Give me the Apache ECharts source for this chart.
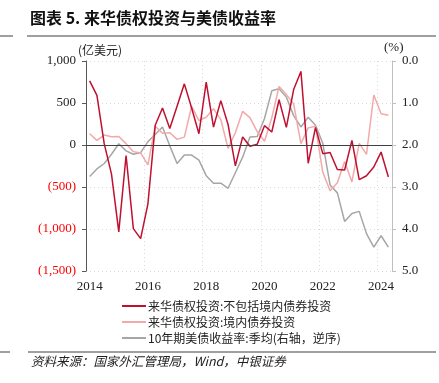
<!DOCTYPE html>
<html>
<head>
<meta charset="utf-8">
<script src="https://cdn.jsdelivr.net/npm/echarts@6/dist/echarts.min.js"></script>
<style>
html,body{margin:0;padding:0;background:#fff;}
#c{width:439px;height:383px;}
</style>
</head>
<body>
<div id="c"></div>
<script>
// Quarterly categories 2014Q1 .. 2024Q2
const categories = [
 '2014Q1','2014Q2','2014Q3','2014Q4','2015Q1','2015Q2','2015Q3','2015Q4',
 '2016Q1','2016Q2','2016Q3','2016Q4','2017Q1','2017Q2','2017Q3','2017Q4',
 '2018Q1','2018Q2','2018Q3','2018Q4','2019Q1','2019Q2','2019Q3','2019Q4',
 '2020Q1','2020Q2','2020Q3','2020Q4','2021Q1','2021Q2','2021Q3','2021Q4',
 '2022Q1','2022Q2','2022Q3','2022Q4','2023Q1','2023Q2','2023Q3','2023Q4',
 '2024Q1','2024Q2'
];
// 来华债权投资:不包括境内债券投资 (亿美元)
const debtExBond = [
 764, 590, 16, -346, -1035, -125, -996, -1114,
 -700, 236, 441, 197, 461, 728, 441, 134,
 748, 213, 528, 244, -248, 96, -14, 10,
 230, 155, 539, 210, 660, 876, -218, 210,
 -103, -90, -292, -297, 55, -413, -366, -262,
 -84, -380
];
// 来华债权投资:境内债券投资 (亿美元)
const domesticBond = [
 134, 55, 118, 98, 102, 16, -79, -95,
 -236, 224, 140, 146, 67, 94, 461, 291,
 331, 433, 303, -40, 146, 401, 326, 160,
 45, 323, 697, 600, 490, 16, 204, 222,
 -325, -545, -448, -196, -440, 20, -112, 595,
 371, 353
];
// 10年期美债收益率:季均 (%)
const ust10y = [
 2.75, 2.57, 2.44, 2.22, 1.97, 2.14, 2.22, 2.18,
 1.92, 1.75, 1.57, 2.02, 2.44, 2.24, 2.24, 2.36,
 2.73, 2.91, 2.91, 3.03, 2.66, 2.29, 1.81, 1.80,
 1.37, 0.71, 0.66, 0.86, 1.30, 1.57, 1.34, 1.53,
 1.96, 2.95, 3.14, 3.82, 3.63, 3.58, 4.11, 4.43,
 4.16, 4.43
];
const leftTicks = {min: -1500, max: 1000, interval: 500};
const rightTicks = {min: 0, max: 5, interval: 1};
const seriesNames = [
 '来华债权投资:不包括境内债券投资',
 '来华债权投资:境内债券投资',
 '10年期美债收益率:季均(右轴，逆序)'
];

const serif = '"Liberation Serif","Noto Sans CJK SC",serif';
const cjk = '"Noto Sans CJK SC",sans-serif';

const chart = echarts.init(document.getElementById('c'), null, {renderer: 'canvas'});
chart.setOption({
  animation: false,
  backgroundColor: '#fff',
  grid: {left: 86, right: 47, top: 61, bottom: 112, containLabel: false},
  legend: {
    orient: 'vertical', left: 117, top: 295, itemGap: 4,
    itemWidth: 24, itemHeight: 2, icon: 'rect', selectedMode: false,
    textStyle: {fontFamily: cjk, fontSize: 12, color: '#222', padding: [0,0,0,-3]},
    data: seriesNames
  },
  xAxis: {
    type: 'category', data: categories, boundaryGap: true,
    axisLine: {show: false}, axisTick: {show: false},
    axisLabel: {
      interval: function (i) { return i % 8 === 0; },
      formatter: function (v) { return v.slice(0, 4); },
      fontFamily: serif, fontSize: 13, color: '#222', margin: 9
    },
    splitLine: {
      show: true,
      interval: function (i) { return i > 0 && i % 8 === 0; },
      lineStyle: {color: '#D9D9D9', type: [1, 3], width: 1}
    }
  },
  yAxis: [{
    type: 'value', min: leftTicks.min, max: leftTicks.max, interval: leftTicks.interval,
    axisLine: {show: true, lineStyle: {color: '#595959', width: 1}},
    axisTick: {show: true, length: 4, lineStyle: {color: '#595959'}},
    axisLabel: {
      fontFamily: serif, fontSize: 13, margin: 10,
      color: function (v) { return Number(v) < 0 ? '#FF0000' : '#222'; },
      formatter: function (v) {
        const s = Math.abs(v).toLocaleString('en-US');
        return v < 0 ? '(' + s + ')' : s;
      }
    },
    splitLine: {show: true, lineStyle: {color: '#D9D9D9', type: [1, 3], width: 1}}
  }, {
    type: 'value', min: rightTicks.min, max: rightTicks.max, interval: rightTicks.interval,
    inverse: true, position: 'right',
    axisLine: {show: true, lineStyle: {color: '#BFBFBF', width: 1}},
    axisTick: {show: true, length: 4, lineStyle: {color: '#BFBFBF'}},
    axisLabel: {
      fontFamily: serif, fontSize: 13, margin: 10, color: '#222',
      formatter: function (v) { return v.toFixed(1); }
    },
    splitLine: {show: false}
  }],
  series: [{
    name: seriesNames[2], type: 'line', yAxisIndex: 1, data: ust10y,
    symbol: 'none', z: 2,
    lineStyle: {color: '#A6A6A6', width: 1.5}, itemStyle: {color: '#A6A6A6'}
  }, {
    name: seriesNames[1], type: 'line', yAxisIndex: 0, data: domesticBond,
    symbol: 'none', z: 3,
    lineStyle: {color: '#F2A9A9', width: 1.5}, itemStyle: {color: '#F2A9A9'}
  }, {
    name: seriesNames[0], type: 'line', yAxisIndex: 0, data: debtExBond,
    symbol: 'none', z: 4,
    lineStyle: {color: '#C0102F', width: 1.5}, itemStyle: {color: '#C0102F'},
    markLine: {
      silent: true, symbol: 'none', label: {show: false},
      lineStyle: {color: '#404040', width: 1.2, type: 'solid'},
      data: [{yAxis: 0}]
    }
  }],
  graphic: [
    {type: 'text', left: 30, top: 10, style: {text: '图表 5. 来华债权投资与美债收益率', font: 'bold 16px "Noto Sans CJK SC", sans-serif', fill: '#111'}},
    {type: 'line', shape: {x1: 0, y1: 36, x2: 13, y2: 36}, style: {stroke: '#7F7F7F', lineWidth: 1.5}},
    {type: 'line', shape: {x1: 27, y1: 36, x2: 436, y2: 36}, style: {stroke: '#7F7F7F', lineWidth: 1.5}},
    {type: 'text', left: 78, top: 44, style: {text: '(亿美元)', font: '12px "Noto Sans CJK SC", sans-serif', fill: '#222'}},
    {type: 'text', left: 384, top: 41, style: {text: '(%)', font: '13px "Liberation Serif", serif', fill: '#222'}},
    {type: 'line', shape: {x1: 0, y1: 352, x2: 10, y2: 352}, style: {stroke: '#7F7F7F', lineWidth: 1.5}},
    {type: 'line', shape: {x1: 28, y1: 352, x2: 436, y2: 352}, style: {stroke: '#7F7F7F', lineWidth: 1.5}},
    {type: 'text', left: 31, top: 355, style: {text: '资料来源：国家外汇管理局，Wind，中银证券', font: 'italic 12.5px "Noto Sans CJK SC", sans-serif', fill: '#222'}}
  ]
});
</script>
</body>
</html>
